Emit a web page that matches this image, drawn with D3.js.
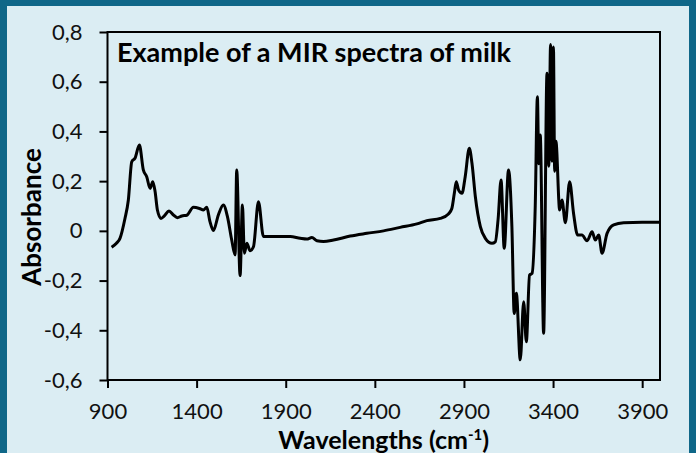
<!DOCTYPE html>
<html>
<head>
<meta charset="utf-8">
<script src="https://cdn.jsdelivr.net/npm/d3@7"></script>
<style>
  body { margin: 0; background: #0f6788; }
  svg { display: block; }
</style>
</head>
<body>
<div id="chart"></div>
<script>
// spectrum values
const wavenumbers = [923, 950, 970, 998, 1017, 1036, 1054, 1079, 1101, 1120, 1139, 1154, 1167, 1180, 1200,
  1219, 1245, 1270, 1292, 1317, 1345, 1382, 1416, 1438, 1457, 1475, 1494, 1522, 1550, 1573, 1597, 1616,
  1625, 1644, 1657, 1668, 1682, 1700, 1719, 1747, 1775, 1812, 1925, 1981, 2018, 2047, 2075, 2112, 2168,
  2262, 2355, 2449, 2542, 2636, 2692, 2767, 2813, 2832, 2846, 2857, 2870, 2889, 2907, 2930, 2945, 2964,
  2992, 3020, 3057, 3076, 3092, 3108, 3126, 3150, 3169, 3182, 3194, 3216, 3235, 3250, 3268, 3282, 3300,
  3312, 3320, 3328, 3347, 3366, 3376, 3386, 3394, 3402, 3409, 3416, 3437, 3450, 3469, 3493, 3515, 3538,
  3562, 3591, 3619, 3637, 3656, 3675, 3703, 3740, 3796, 3900, 4000];
const absorbance = [-0.066, -0.05, -0.03, 0.05, 0.124, 0.278, 0.292, 0.345, 0.245, 0.218, 0.171, 0.198, 0.158, 0.084, 0.05,
  0.06, 0.08, 0.064, 0.053, 0.06, 0.063, 0.095, 0.09, 0.084, 0.095, 0.037, 0.001, 0.064, 0.104, 0.057, -0.037, -0.097,
  0.245, -0.18, 0.104, -0.09, -0.05, -0.08, -0.064, 0.117, -0.023, -0.023, -0.023, -0.03, -0.033, -0.027, -0.04, -0.043, -0.037,
  -0.021, -0.01, 0.0, 0.014, 0.028, 0.041, 0.05, 0.068, 0.09, 0.151, 0.198, 0.164, 0.151, 0.218, 0.332, 0.272, 0.137,
  0.017, -0.03, -0.05, -0.044, 0.05, 0.205, -0.07, 0.245, 0.017, -0.332, -0.251, -0.519, -0.285, -0.446, -0.178, -0.171, 0.1,
  0.54, 0.27, 0.386, -0.412, 0.634, 0.26, 0.75, 0.28, 0.74, 0.24, 0.36, 0.084, 0.124, 0.033, 0.198, 0.07, -0.017,
  -0.017, -0.04, -0.004, -0.037, -0.017, -0.09, -0.01, 0.024, 0.033, 0.035, 0.035];
const xTicks = [900, 1400, 1900, 2400, 2900, 3400, 3900];
const yTicks = [-0.6, -0.4, -0.2, 0, 0.2, 0.4, 0.6, 0.8];

const data = wavenumbers.map((w, i) => ({ w: w, a: absorbance[i] }));

const width = 696;
const height = 453;
const margin = { top: 32, right: 36, bottom: 73, left: 107.5 };

const svg = d3.select('#chart')
  .append('svg')
  .attr('width', width)
  .attr('height', height)
  .style('font-family', 'Lato, sans-serif');

// light panel inside the dark frame
svg.append('rect')
  .attr('x', 7).attr('y', 6)
  .attr('width', 682).attr('height', height)
  .attr('fill', '#dbedf3');

const xScale = d3.scaleLinear()
  .domain([900, 4000])
  .range([margin.left, width - margin.right]);

const yScale = d3.scaleLinear()
  .domain([-0.6, 0.8])
  .range([height - margin.bottom, margin.top]);

const fmt = (d) => d === 0 ? '0' : d.toFixed(1).replace('.', ',');

// x axis
const xAxis = svg.append('g')
  .attr('transform', `translate(0, ${yScale(-0.6)})`)
  .call(d3.axisBottom(xScale).tickValues(xTicks).tickSize(8).tickSizeOuter(0).tickPadding(15).tickFormat(d3.format('d')));

// y axis
const yAxis = svg.append('g')
  .attr('transform', `translate(${xScale(900)}, 0)`)
  .call(d3.axisLeft(yScale).tickValues(yTicks).tickSize(8).tickSizeOuter(0).tickPadding(17).tickFormat(fmt));

[xAxis, yAxis].forEach((ax) => {
  ax.select('.domain').remove();
  ax.selectAll('.tick line').attr('stroke', '#000').attr('stroke-width', 2);
  ax.selectAll('.tick text')
    .attr('fill', '#111')
    .style('font-size', '22px')
    .style('font-family', 'Lato, sans-serif');
});

// plot frame
svg.append('rect')
  .attr('x', xScale(900))
  .attr('y', yScale(0.8))
  .attr('width', xScale(4000) - xScale(900))
  .attr('height', yScale(-0.6) - yScale(0.8))
  .attr('fill', 'none')
  .attr('stroke', '#000')
  .attr('stroke-width', 2);

const line = d3.line()
  .x((d) => xScale(d.w))
  .y((d) => yScale(d.a))
  .curve(d3.curveMonotoneX);

svg.append('path')
  .datum(data)
  .attr('d', line)
  .attr('fill', 'none')
  .attr('stroke', '#000')
  .attr('stroke-width', 3)
  .attr('stroke-linejoin', 'round');

// title inside the plot
svg.append('text')
  .attr('x', 117)
  .attr('y', 62)
  .style('font-size', '27px')
  .style('font-weight', 'bold')
  .attr('fill', '#000')
  .text('Example of a MIR spectra of milk');

// axis titles
svg.append('text')
  .attr('transform', 'translate(41, 217) rotate(-90)')
  .attr('text-anchor', 'middle')
  .style('font-size', '26px')
  .style('font-weight', 'bold')
  .text('Absorbance');

const xLabel = svg.append('text')
  .attr('x', (xScale(900) + xScale(4000)) / 2)
  .attr('y', 449)
  .attr('text-anchor', 'middle')
  .style('font-size', '25px')
  .style('font-weight', 'bold');
xLabel.append('tspan').text('Wavelengths (cm');
xLabel.append('tspan').attr('dy', -9).style('font-size', '15px').text('-1');
xLabel.append('tspan').attr('dy', 9).text(')');
</script>
</body>
</html>
